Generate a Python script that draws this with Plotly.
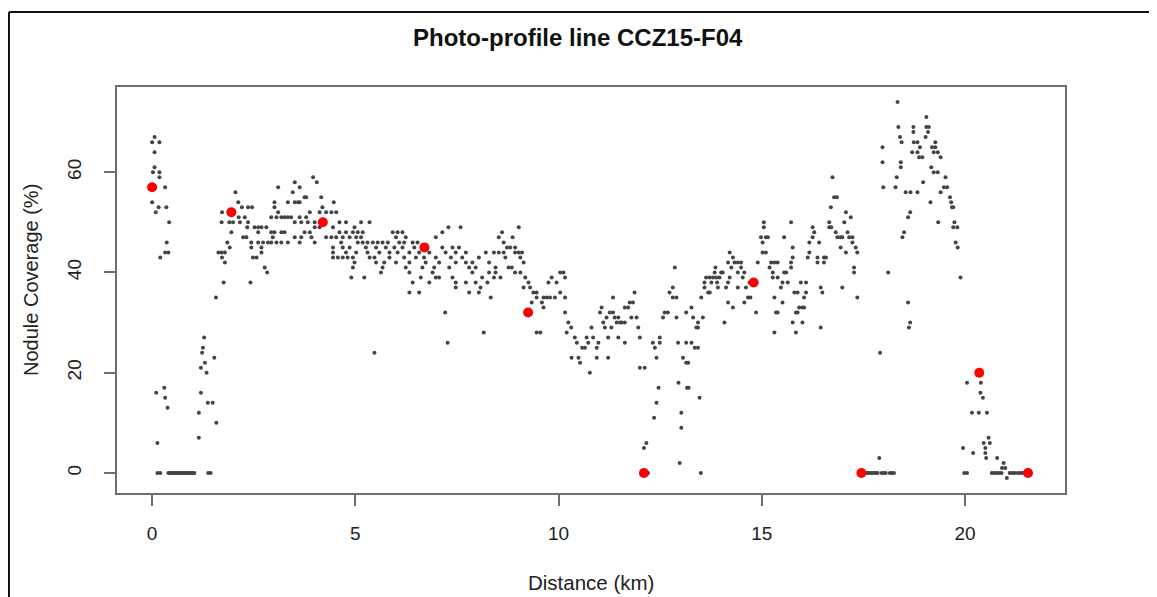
import plotly.graph_objects as go

# ---- data: (distance km, nodule coverage %) ----
seg_0_2km = [
    (0.06,67),(0.00,66),(0.18,66),(0.06,64),(0.06,61),(0.02,60),(0.18,60),(0.18,59),(0.32,57),(0.00,54),
    (0.16,53),(0.35,53),(0.09,52),(0.42,50),(0.36,46),(0.32,44),(0.40,44),(0.20,43),(0.10,16),(0.30,17),
    (0.32,15),(0.38,13),(0.13,6),
    (0.13,0),(0.20,0),(0.40,0),(0.44,0),(0.48,0),(0.52,0),(0.56,0),(0.60,0),(0.64,0),(0.68,0),(0.72,0),
    (0.76,0),(0.80,0),(0.84,0),(0.88,0),(0.92,0),(0.96,0),(1.00,0),(1.04,0),(1.38,0),(1.44,0),
    (1.15,7),(1.15,12),(1.20,16),(1.20,21),(1.23,24),(1.25,25),(1.28,27),(1.30,22),(1.34,20),(1.37,14),
    (1.49,14),(1.53,23),(1.58,10),(1.57,35),
]

seg_2_4km = [
    (1.76,38),(2.42,38),(1.79,42),(1.72,43),(1.63,44),(1.71,44),(1.79,44),(1.91,45),(1.85,46),(1.95,48),
    (1.99,50),(1.71,50),(1.90,50),(1.72,52),(2.12,54),(2.21,53),(2.36,53),(2.46,53),(2.05,56),(2.16,50),
    (2.13,51),(2.28,51),(2.36,50),(2.34,49),(2.24,47),(2.32,47),(2.52,49),(2.61,49),(2.69,49),(2.81,49),
    (2.61,48),(2.93,48),(3.01,48),(3.18,48),(3.26,48),(2.44,45),(2.69,45),(2.44,46),(2.61,46),(2.73,46),
    (2.85,46),(2.48,43),(2.57,43),(2.77,41),(2.83,40),(2.69,44),(2.93,51),(3.10,57),(3.01,54),(3.01,53),
    (3.10,52),(3.06,51),(3.18,51),(3.26,51),(3.34,51),(3.42,51),(3.34,54),(3.51,54),(3.59,54),(3.51,58),
    (3.46,56),(3.34,46),(3.51,50),(2.97,47),(3.18,46),(3.51,47),(2.93,46),(3.06,46),
]

seg_4_8km = [
    (3.96,59),(4.05,58),(3.63,57),(3.75,55),(3.79,55),(4.16,55),(3.63,54),(4.19,53),(4.47,54),(3.88,52),
    (4.12,52),(4.28,52),(4.41,52),(4.53,52),(3.63,51),(3.79,51),(3.67,50),(3.83,50),(4.00,50),(4.61,50),
    (4.77,50),(5.14,50),(5.35,50),(4.00,49),(4.12,49),(4.45,49),(4.98,49),(3.75,48),(3.88,48),(4.61,48),
    (4.77,48),(4.94,48),(5.06,48),(5.18,48),(3.67,47),(3.92,47),(4.28,47),(4.41,47),(4.53,47),(4.69,47),
    (4.86,47),(5.02,47),(5.14,47),(5.92,48),(6.04,48),(6.16,48),(6.00,47),(6.24,47),(6.98,47),(7.14,48),
    (7.29,49),(7.59,49),
    (3.63,46),(4.00,46),(4.65,46),(5.06,46),(5.18,46),(5.30,46),(5.43,46),(5.55,46),(5.67,46),(5.80,46),
    (6.08,46),(6.20,46),(6.41,46),(6.53,46),
    (4.45,45),(4.69,45),(4.86,45),(5.26,45),(5.51,45),(5.75,45),(5.96,45),(6.16,45),(6.45,45),(7.14,45),
    (7.39,45),(7.55,45),
    (4.45,44),(4.77,44),(5.02,44),(5.30,44),(5.59,44),(5.84,44),(6.04,44),(6.33,44),(6.57,44),(6.82,44),
    (7.22,44),(7.47,44),(7.72,44),(8.21,44),(8.41,44),
    (4.45,43),(4.57,43),(4.69,43),(4.81,43),(4.94,43),(5.35,43),(5.47,43),(5.84,43),(6.20,43),(6.49,43),
    (6.69,43),(6.98,43),(7.35,43),(7.63,43),(8.04,43),
    (4.98,42),(5.51,42),(5.71,42),(6.00,42),(6.33,42),(6.73,42),(7.06,42),(7.47,42),(7.72,42),(7.88,42),
    (8.29,42),
    (4.94,41),(5.67,41),(6.24,41),(6.65,41),(6.94,41),(7.31,41),(7.80,41),(7.96,41),(8.45,41),
    (5.63,40),(6.33,40),(6.90,40),(7.88,40),(8.29,40),(8.45,40),
    (4.90,39),(5.22,39),(6.61,39),(6.98,39),(7.06,39),(7.39,39),(8.12,39),(8.41,39),
    (6.41,38),(6.82,38),(7.47,38),(7.72,38),(7.96,38),(8.25,38),
    (7.47,37),(8.08,37),(6.33,36),(6.57,36),(7.80,36),(8.04,36),
    (8.33,35),(7.21,32),(8.16,28),(7.27,26),(5.47,24),
]

seg_8_13km = [
    (9.02,49),(8.61,48),(8.53,47),(8.87,47),(8.65,46),(8.53,44),(8.65,44),(8.73,45),(8.81,45),(8.93,45),
    (9.02,44),(8.69,43),(8.93,44),(9.06,43),(9.10,44),(9.14,42),(8.77,41),(8.85,41),(8.93,40),(9.06,40),
    (8.57,39),(9.18,39),(10.04,40),(10.12,40),(9.83,39),(9.75,38),(9.95,38),(10.16,39),(9.14,37),(9.26,38),
    (9.30,37),(9.38,36),(9.46,36),(10.04,36),(9.46,35),(9.63,35),(9.71,35),(9.79,35),(9.91,35),(10.16,35),
    (9.34,34),(9.59,34),(9.63,33),(10.16,32),(10.24,30),(10.31,29),(10.20,28),(9.46,28),(9.55,28),(10.40,27),
    (10.45,26),(10.58,25),(10.65,25),(10.73,26),(10.69,27),(10.85,27),(10.81,29),(10.94,25),(10.98,26),(11.02,32),
    (11.06,33),(11.10,30),(11.18,31),(11.14,29),(11.22,27),(11.26,32),(11.34,32),(11.38,31),(11.47,31),(11.43,30),
    (11.51,30),(11.55,30),(11.63,30),(11.63,33),(11.71,33),(11.75,34),(11.83,34),(11.87,36),(11.79,31),(11.92,31),
    (11.96,29),(12.00,27),(11.34,35),(11.30,29),(10.32,23),(10.49,23),(10.53,22),(10.94,23),(11.22,23),(10.77,20),
    (12.00,21),(12.12,21),(11.63,26),(11.47,27),(12.32,26),(12.49,27),(12.49,26),(12.37,25),(12.41,23),(12.46,17),
    (12.41,14),(12.35,11),(12.16,6),(12.10,5),(12.20,0),(12.86,41),(12.81,37),(12.73,36),(12.81,35),(12.90,35),
    (12.57,31),(12.61,32),(12.69,32),(12.90,31),(13.14,32),(12.94,26),(13.14,26),(13.06,23),(13.14,22),(12.95,18),
    (13.16,17),(13.02,12),(13.02,9),(12.98,2),
]

seg_13_17km = [
    (13.27,33),(13.31,31),(13.43,30),(13.55,31),(13.39,29),(13.43,29),(13.27,26),(13.35,25),(13.43,25),(13.19,22),
    (13.20,17),(13.47,15),(13.50,0),(13.51,35),(13.59,37),(13.68,36),(13.72,36),(13.59,38),(13.63,39),(13.72,39),
    (13.80,39),(13.76,38),(13.88,39),(13.96,39),(14.00,40),(14.04,40),(13.84,40),(13.86,41),(13.92,37),(14.12,37),
    (14.17,38),(14.21,39),(14.17,42),(14.25,41),(14.21,44),(14.29,43),(14.41,42),(14.49,42),(14.41,40),(14.49,41),
    (14.53,39),(14.57,40),(14.61,37),(14.70,38),(14.41,37),(14.66,35),(14.72,35),(14.57,34),(14.29,33),(14.17,34),
    (14.08,30),(14.86,32),(14.90,42),(15.02,44),(15.10,44),(15.02,46),(14.98,47),(15.10,47),(15.05,49),(15.05,50),
    (15.15,47),(15.23,42),(15.19,41),(15.27,40),(15.31,42),(15.39,42),(15.27,39),(15.39,39),(15.47,37),(15.51,38),
    (15.55,47),(15.55,40),(15.60,40),(15.64,38),(15.72,42),(15.72,50),(15.76,45),(15.76,43),(15.72,41),(15.31,35),
    (15.39,32),(15.35,32),(15.51,34),(15.80,36),(15.88,36),(15.84,32),(15.88,32),(15.92,33),(16.00,33),(16.04,33),
    (16.00,30),(15.76,30),(15.84,28),(15.31,28),(15.96,38),(16.09,38),(16.04,35),(16.09,36),(16.13,43),(16.17,44),
    (16.17,46),(16.25,47),(16.25,49),(16.29,48),(16.37,43),(16.37,42),(16.41,46),(16.45,37),(16.49,36),(16.53,43),
    (16.53,42),(16.58,43),(16.45,29),(16.66,49),(16.66,50),(16.71,49),(16.74,59),(16.78,55),(16.85,55),(16.70,53),
    (16.82,48),(16.86,47),(16.94,47),(16.98,47),(17.03,50),(17.07,52),(17.11,48),(17.15,47),(17.19,51),(17.23,47),
    (17.23,46),(16.94,45),(17.07,44),(17.31,45),(17.35,44),(17.27,41),(17.27,40),(16.98,37),(17.35,35),(13.90,38),
    (14.33,42),
]

seg_17_22km = [
    (17.55,0),(17.60,0),(17.65,0),(17.70,0),(17.75,0),(17.80,0),(17.85,0),(17.95,0),(18.00,0),(18.05,0),
    (18.15,0),(18.20,0),(18.25,0),
    (17.89,3),(17.97,65),(17.97,62),(17.99,57),(18.11,40),(17.91,24),(18.34,74),(18.36,69),(18.40,67),(18.44,66),
    (18.42,62),(18.42,61),(18.32,59),(18.29,57),(18.54,56),(18.66,56),(18.83,56),(18.73,69),(18.73,68),(18.74,66),
    (18.83,66),(18.89,65),(18.83,64),(18.70,64),(18.87,63),(18.95,63),(19.05,71),(19.05,69),(19.11,69),(19.09,68),
    (19.03,67),(19.27,66),(19.27,65),(19.19,65),(19.23,64),(19.33,64),(19.40,63),(18.97,58),(19.17,61),(19.23,60),
    (19.33,60),(19.52,59),(19.48,57),(19.56,57),(19.40,56),(19.63,55),(19.66,54),(19.68,53),(19.71,53),(19.15,54),
    (19.34,50),(19.74,50),(19.71,49),(19.81,49),(18.60,51),(18.65,52),(18.50,48),(18.46,47),(19.77,46),(19.82,45),
    (19.89,39),(18.60,34),(18.65,30),(18.62,29),(20.05,18),(20.39,18),(20.38,16),(20.44,15),(20.17,12),(20.34,12),
    (20.54,12),(19.95,5),(20.20,4),(20.58,7),(20.61,6),(20.46,6),(20.50,5),(20.50,4),(20.52,3),(20.79,3),
    (20.95,2),(20.99,1),(20.91,1),(21.03,-1),
    (19.98,0),(20.05,0),(20.66,0),(20.72,0),(20.78,0),(20.84,0),(20.90,0),(21.10,0),(21.16,0),(21.22,0),
    (21.30,0),(21.36,0),(21.42,0),
]

sample_km = [0.0, 1.95, 4.2, 6.7, 9.25, 12.1, 14.8, 17.45, 20.35, 21.55]
sample_pct = [57, 52, 50, 45, 32, 0, 38, 0, 20, 0]

x_ticks = [0, 5, 10, 15, 20]
y_ticks = [0, 20, 40, 60]

# ---- build ----
all_pts = seg_0_2km + seg_2_4km + seg_4_8km + seg_8_13km + seg_13_17km + seg_17_22km
dist_km = [p[0] for p in all_pts]
cov_pct = [p[1] for p in all_pts]

FONT = "Liberation Sans, Arial, sans-serif"
AX = "#6e6e6e"

# page has an 8px body margin: figure sits at (8, 8) in the window
W, H = 1149, 589
PL, PT, PR, PB = 117, 87, 1065, 493  # plot box in window pixels
PW, PH = PR - PL, PB - PT

def px(xw):
    return (xw - PL) / PW

def py(yw):
    return (PB - yw) / PH

fig = go.Figure()
fig.add_trace(go.Scatter(
    x=dist_km, y=cov_pct, mode="markers",
    marker=dict(size=4, color="#444444", symbol="circle"),
    hoverinfo="x+y", showlegend=False))
fig.add_trace(go.Scatter(
    x=sample_km, y=sample_pct, mode="markers",
    marker=dict(size=10, color="#ff0000", symbol="circle"),
    showlegend=False))

axis_common = dict(
    showgrid=False, zeroline=False, showline=True, mirror=True,
    linecolor=AX, linewidth=1.5, ticks="outside", ticklen=11, tickwidth=1.5,
    tickcolor=AX, tickfont=dict(family=FONT, size=19, color="#222222"),
)

fig.update_layout(
    width=W, height=H,
    margin=dict(l=PL - 8, r=W - (PR - 8), t=PT - 8, b=H - (PB - 8), pad=0),
    paper_bgcolor="white", plot_bgcolor="white",
    font=dict(family=FONT, color="#222222"),
    xaxis=dict(range=[-0.864, 22.46], tickvals=x_ticks, ticklabelstandoff=11, **axis_common),
    yaxis=dict(range=[-4, 77], tickvals=y_ticks, tickangle=-90, ticklabelstandoff=16, **axis_common),
    annotations=[
        dict(text="<b>Photo-profile line CCZ15-F04</b>", xref="paper", yref="paper",
             x=px(578), y=py(37), xanchor="center", yanchor="middle", showarrow=False,
             font=dict(family=FONT, size=24, color="#111111")),
        dict(text="Distance (km)", xref="paper", yref="paper",
             x=px(591), y=py(582), xanchor="center", yanchor="middle", showarrow=False,
             font=dict(family=FONT, size=20.5, color="#222222")),
        dict(text="Nodule Coverage (%)", xref="paper", yref="paper",
             x=px(31), y=py(280), xanchor="center", yanchor="middle",
             textangle=-90, showarrow=False,
             font=dict(family=FONT, size=20, color="#222222")),
    ],
    shapes=[
        dict(type="line", xref="paper", yref="paper",
             x0=px(9), x1=px(1170), y0=py(12), y1=py(12),
             line=dict(color="#111111", width=2)),
        dict(type="line", xref="paper", yref="paper",
             x0=px(9), x1=px(9), y0=py(12), y1=py(610),
             line=dict(color="#111111", width=2)),
    ],
)

fig.write_html("out.html")
